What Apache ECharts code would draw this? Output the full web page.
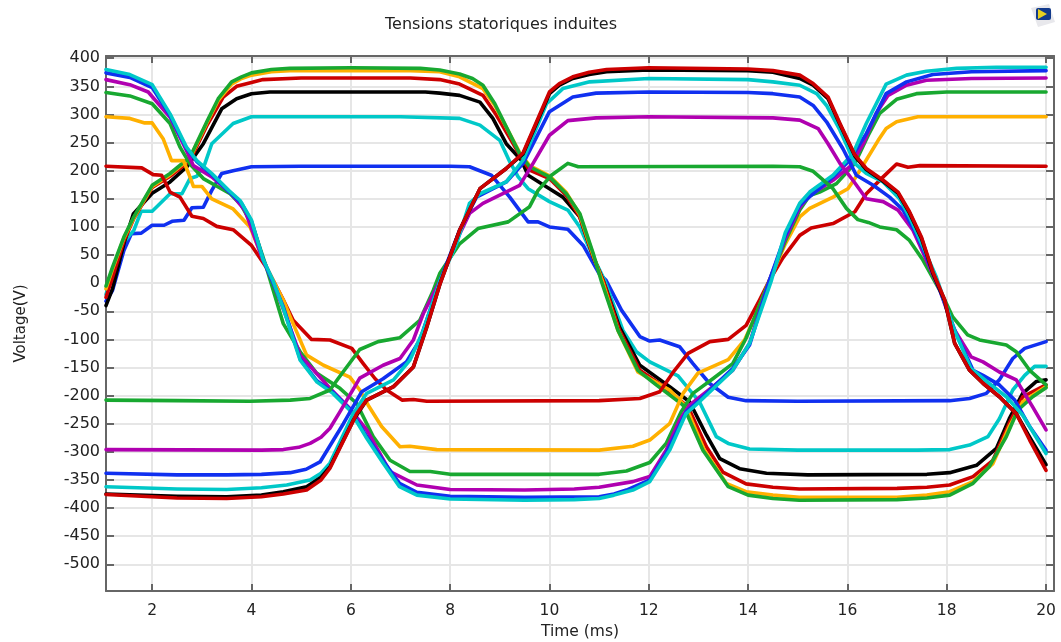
<!DOCTYPE html>
<html><head><meta charset="utf-8"><style>html,body{margin:0;padding:0;background:#fff}#c{width:1061px;height:642px}</style>
<script src="https://cdn.jsdelivr.net/npm/echarts@6/dist/echarts.min.js"></script></head>
<body><div id="c"></div><script>
const xTicks=[2,4,6,8,10,12,14,16,18,20];
const yTicks=[400,350,300,250,200,150,100,50,0,-50,-100,-150,-200,-250,-300,-350,-400,-450,-500];
const uBlue=[[1.07,-32],[1.2,-13],[1.43,58],[1.58,88],[1.78,89],[2,103],[2.24,103],[2.4,110],[2.64,112],[2.8,134],[3.03,135],[3.2,165],[3.4,195],[3.63,200],[4,207],[5,208],[8,208],[8.39,207],[8.83,192],[9.2,153],[9.57,109],[9.77,109],[10,100],[10.37,96],[10.68,67],[11,17],[11.14,5],[11.45,-48],[11.82,-95],[12.02,-103],[12.22,-101],[12.62,-113],[12.89,-143],[13.22,-178],[13.6,-203],[13.96,-209],[15,-210],[18.06,-209],[18.46,-205],[18.8,-196],[19.06,-172],[19.33,-134],[19.57,-116],[20,-104]];
const uCyan=[[1.07,-20],[1.2,20],[1.43,73],[1.63,94],[1.78,128],[2,128],[2.36,159],[2.6,159],[2.76,186],[2.9,190],[3.06,212],[3.2,248],[3.63,284],[4,296],[7,296],[8.19,293],[8.6,281],[9,254],[9.2,216],[9.37,189],[9.57,168],[10,145],[10.37,130],[10.61,100],[10.88,47],[11.11,5],[11.48,-84],[11.75,-122],[12.02,-140],[12.59,-165],[13.02,-211],[13.36,-273],[13.6,-285],[14.03,-295],[15,-297],[17.4,-297],[18.06,-296],[18.46,-288],[18.83,-273],[19.06,-241],[19.33,-190],[19.57,-164],[19.77,-148],[20,-148]];
const uBlack=[[1.07,-40],[1.2,-10],[1.43,70],[1.62,123],[2,160],[2.36,180],[2.7,207],[3.03,248],[3.4,310],[3.7,328],[4,337],[4.37,340],[7.5,340],[7.79,338],[8.19,334],[8.6,322],[8.86,293],[9.13,248],[9.43,219],[9.57,192],[10,168],[10.27,153],[10.61,118],[10.88,47],[11.08,5],[11.41,-78],[11.82,-146],[12.42,-184],[12.82,-211],[13.16,-270],[13.43,-312],[13.83,-330],[14.37,-338],[15.2,-341],[17.6,-340],[18.06,-337],[18.6,-324],[19,-294],[19.26,-241],[19.53,-196],[19.8,-175],[20,-172]];
const uRed=[[1.07,-25],[1.2,10],[1.43,75],[1.63,115],[2,170],[2.36,190],[2.76,218],[3.1,280],[3.43,331],[3.7,350],[4,357],[4.23,362],[5,365],[7.2,365],[7.79,362],[8.19,354],[8.66,334],[8.93,299],[9.4,228],[9.6,201],[10,186],[10.34,156],[10.61,118],[10.88,47],[11.08,5],[11.41,-84],[11.82,-155],[12.35,-187],[12.79,-220],[13.16,-291],[13.49,-336],[13.96,-357],[14.5,-363],[15.03,-366],[17,-365],[17.6,-363],[18.06,-359],[18.53,-344],[18.93,-315],[19.26,-249],[19.53,-202],[20,-181]];
const uOrange=[[1.07,-10],[1.2,25],[1.43,80],[1.63,116],[2,172],[2.36,193],[2.76,222],[3.1,285],[3.33,325],[3.6,354],[3.8,364],[4,370],[4.4,376],[4.77,378],[7.2,378],[7.79,376],[8.19,367],[8.66,346],[8.9,316],[9.4,232],[9.6,209],[10,191],[10.34,161],[10.61,122],[10.88,50],[11.06,5],[11.38,-84],[11.78,-158],[12.42,-190],[12.75,-220],[13.12,-297],[13.56,-356],[13.96,-371],[14.5,-377],[15.03,-381],[17,-381],[17.6,-377],[18.06,-371],[18.53,-353],[18.93,-321],[19.26,-255],[19.53,-211],[20,-184]];
const uGreen=[[1.07,-5],[1.2,28],[1.43,82],[1.63,118],[2,174],[2.36,195],[2.76,224],[3.1,287],[3.33,328],[3.6,358],[3.8,367],[4,374],[4.4,380],[4.77,382],[6,383],[7.4,382],[7.79,379],[8.19,372],[8.45,364],[8.66,352],[8.9,319],[9.4,230],[9.6,207],[10,189],[10.34,159],[10.61,124],[10.88,53],[11.04,5],[11.38,-84],[11.78,-155],[12.15,-181],[12.69,-217],[13.09,-297],[13.6,-362],[14,-377],[14.5,-383],[15.03,-386],[17,-385],[17.6,-382],[18.06,-377],[18.53,-356],[18.86,-326],[19.2,-273],[19.43,-226],[19.73,-202],[20,-186]];
const vRed=[[1.07,208],[1.79,205],[2.02,193],[2.19,192],[2.36,162],[2.56,153],[2.8,119],[3.03,115],[3.3,101],[3.63,95],[4,67],[4.3,28],[4.63,-28],[4.84,-66],[5.21,-100],[5.58,-101],[6.02,-116],[6.25,-143],[6.49,-170],[6.72,-190],[7.03,-208],[7.26,-207],[7.53,-210],[11,-209],[11.82,-205],[12.22,-193],[12.52,-155],[12.79,-125],[13.23,-104],[13.6,-100],[13.96,-75],[14.23,-30],[14.43,5],[14.7,45],[15.04,85],[15.27,98],[15.71,106],[16.15,127],[16.38,159],[16.72,189],[16.99,212],[17.22,206],[17.46,209],[20,208]];
const vOrange=[[1.07,296],[1.55,293],[1.85,285],[2,285],[2.22,257],[2.39,218],[2.63,218],[2.76,189],[2.83,172],[3,172],[3.2,150],[3.63,132],[3.97,100],[4.3,28],[4.64,-30],[4.78,-60],[5.11,-128],[5.45,-146],[5.98,-167],[6.18,-190],[6.35,-217],[6.62,-255],[6.99,-291],[7.19,-290],[7.73,-296],[11,-297],[11.68,-290],[12.02,-279],[12.42,-250],[12.69,-196],[12.99,-160],[13.6,-136],[13.93,-101],[14.17,-54],[14.43,5],[14.75,70],[15.04,118],[15.24,133],[15.71,153],[16.01,168],[16.15,186],[16.38,219],[16.62,254],[16.78,275],[16.99,287],[17.42,296],[20,296]];
const vGreen=[[1.07,339],[1.55,333],[2,319],[2.36,284],[2.56,242],[2.76,212],[3.03,186],[3.33,171],[3.57,159],[3.8,138],[4.03,100],[4.3,28],[4.64,-72],[4.98,-122],[5.31,-160],[5.78,-187],[6.12,-214],[6.45,-273],[6.79,-315],[7.19,-335],[7.6,-335],[8,-340],[11,-340],[11.55,-334],[12.02,-319],[12.35,-285],[12.65,-229],[12.89,-196],[13.29,-170],[13.69,-143],[13.96,-98],[14.43,5],[14.75,75],[15.04,130],[15.24,156],[15.44,162],[15.78,177],[16.15,213],[16.42,263],[16.65,302],[16.99,327],[17.39,337],[18,340],[20,340]];
const vPurple=[[1.07,362],[1.55,353],[1.92,340],[2.36,295],[2.69,236],[2.83,209],[3.2,189],[3.6,159],[3.87,129],[4.2,48],[4.45,-2],[4.7,-60],[4.98,-128],[5.58,-187],[5.98,-223],[6.32,-261],[6.79,-335],[7.33,-359],[8,-367],[9.5,-368],[10.5,-366],[11,-363],[11.68,-353],[12.02,-344],[12.35,-297],[12.62,-244],[12.82,-217],[13.29,-184],[13.69,-155],[14.03,-107],[14.43,5],[14.75,80],[15.04,135],[15.24,156],[15.71,183],[16.05,207],[16.32,248],[16.58,302],[16.82,334],[17.19,352],[17.59,361],[18.5,364],[20,365]];
const vBlue=[[1.07,374],[1.55,366],[2,348],[2.36,298],[2.69,240],[2.9,216],[3.2,193],[3.54,163],[3.8,142],[4,110],[4.23,43],[4.43,2],[4.64,-42],[4.98,-135],[5.32,-174],[5.64,-194],[5.98,-224],[6.3,-270],[6.65,-316],[6.98,-356],[7.33,-372],[8,-379],[9.5,-381],[11,-380],[11.3,-375],[11.55,-368],[12.02,-350],[12.35,-303],[12.75,-229],[13.02,-208],[13.69,-152],[14.03,-110],[14.43,5],[14.75,85],[15.04,139],[15.71,189],[16.05,219],[16.38,266],[16.78,337],[17.19,358],[17.72,371],[18.5,376],[20,378]];
const vCyan=[[1.07,380],[1.55,371],[2,353],[2.36,301],[2.69,242],[2.9,218],[3.2,195],[3.54,165],[3.77,147],[4,112],[4.23,43],[4.43,5],[4.64,-45],[4.98,-137],[5.32,-176],[5.64,-196],[5.98,-226],[6.3,-273],[6.65,-320],[6.98,-362],[7.33,-377],[8,-384],[9.5,-386],[10.5,-385],[11,-383],[11.3,-377],[11.68,-368],[12.02,-353],[12.42,-297],[12.75,-232],[13.02,-211],[13.69,-155],[14.03,-107],[14.47,5],[14.75,90],[15.04,142],[15.24,162],[15.71,192],[16.11,230],[16.38,284],[16.78,354],[17.19,370],[17.59,377],[18.2,382],[19,384],[20,384]];
const wGreen=[[1.07,-208],[2.5,-209],[3.97,-210],[4.78,-208],[5.18,-205],[5.58,-190],[5.75,-169],[6.18,-118],[6.55,-104],[6.99,-97],[7.39,-66],[7.66,-13],[7.79,17],[8.19,70],[8.56,97],[9.17,109],[9.6,136],[9.77,165],[10.04,192],[10.37,213],[10.58,207],[14.5,208],[15.04,207],[15.31,199],[15.48,186],[15.71,168],[15.98,133],[16.21,113],[16.42,108],[16.65,100],[16.99,95],[17.25,76],[17.52,41],[17.93,-24],[18.12,-60],[18.42,-92],[18.66,-101],[19.2,-110],[19.4,-122],[19.67,-155],[20,-181]];
const wPurple=[[1.07,-296],[4.2,-297],[4.64,-296],[4.95,-292],[5.18,-285],[5.4,-274],[5.58,-258],[5.78,-229],[6.18,-169],[6.65,-146],[6.99,-134],[7.26,-101],[7.46,-54],[7.8,5],[8.13,76],[8.39,124],[8.66,142],[9.4,174],[9.67,213],[10,263],[10.37,289],[10.94,294],[12,296],[14.5,294],[15.04,290],[15.41,275],[15.61,248],[15.85,213],[16.11,183],[16.38,150],[16.72,145],[17.02,130],[17.32,94],[17.59,41],[17.86,-12],[18.12,-78],[18.49,-131],[18.73,-140],[19.06,-158],[19.4,-172],[19.73,-220],[20,-261]];
const wBlue=[[1.07,-338],[2.5,-341],[3.5,-341],[4.2,-340],[4.78,-337],[5.1,-331],[5.38,-318],[5.85,-250],[6.22,-193],[6.65,-170],[7.12,-140],[7.39,-101],[7.8,5],[8.19,94],[8.53,153],[9.13,180],[9.47,213],[10,305],[10.47,331],[10.94,338],[12,340],[14,339],[14.5,337],[15.04,331],[15.31,316],[15.58,287],[15.91,239],[16.18,192],[16.52,174],[16.85,153],[17.12,130],[17.35,94],[17.59,47],[17.86,-12],[18.19,-90],[18.53,-155],[18.73,-164],[19.06,-181],[19.37,-208],[19.67,-255],[20,-297]];
const wCyan=[[1.07,-362],[2.5,-366],[3.5,-367],[4.2,-364],[4.71,-359],[5.18,-350],[5.4,-338],[5.58,-320],[6.05,-232],[6.32,-196],[6.86,-172],[7.19,-137],[7.46,-84],[7.8,5],[8.13,70],[8.39,142],[8.6,159],[9.13,180],[9.47,219],[9.94,319],[10.27,346],[10.81,358],[12,364],[14,362],[14.5,358],[15.04,352],[15.38,337],[15.58,316],[15.85,272],[16.15,213],[16.38,195],[16.72,180],[17.05,150],[17.25,118],[17.52,65],[17.79,11],[18.16,-85],[18.49,-152],[18.85,-178],[19.2,-202],[19.53,-235],[20,-303]];
const wBlack=[[1.07,-375],[2.5,-379],[3.5,-380],[4.2,-377],[4.64,-371],[5.11,-362],[5.4,-345],[5.58,-327],[6.05,-244],[6.32,-208],[6.86,-184],[7.26,-149],[7.53,-78],[7.8,0],[8.19,94],[8.6,168],[9.13,204],[9.47,230],[10,337],[10.2,352],[10.47,364],[10.8,371],[11.15,376],[12,379],[14,378],[14.5,375],[15.04,364],[15.31,352],[15.61,328],[15.85,282],[16.15,226],[16.38,202],[16.72,181],[17.02,160],[17.25,125],[17.49,80],[17.72,18],[17.96,-32],[18.16,-107],[18.46,-155],[18.73,-178],[19.06,-202],[19.4,-232],[19.67,-274],[20,-323]];
const wRed=[[1.07,-376],[2.5,-382],[3.5,-383],[4.2,-380],[4.64,-375],[5.11,-368],[5.4,-350],[5.58,-329],[6.12,-232],[6.32,-208],[6.86,-184],[7.26,-149],[7.53,-78],[7.79,-3],[8.19,94],[8.6,168],[9.13,204],[9.47,232],[10,340],[10.2,355],[10.47,367],[10.8,375],[11.15,380],[12,383],[14,381],[14.5,378],[15.04,370],[15.31,355],[15.61,331],[15.85,284],[16.15,228],[16.38,204],[16.72,183],[17.02,162],[17.25,127],[17.49,82],[17.72,20],[17.96,-30],[18.16,-107],[18.46,-155],[18.73,-178],[19.06,-202],[19.4,-232],[19.67,-279],[20,-333]];
const colors={blue:'#1030f0',cyan:'#00c8c8',black:'#000000',red:'#cc0000',orange:'#ffb000',green:'#18a830',purple:'#b000b0'};
const curves=[[uBlue,'blue'],[uCyan,'cyan'],[uBlack,'black'],[uRed,'red'],[uOrange,'orange'],[uGreen,'green'],
[vRed,'red'],[vOrange,'orange'],[vGreen,'green'],[vPurple,'purple'],[vBlue,'blue'],[vCyan,'cyan'],
[wGreen,'green'],[wPurple,'purple'],[wBlue,'blue'],[wCyan,'cyan'],[wBlack,'black'],[wRed,'red']];
const FONT='"DejaVu Sans"',TXT='#222',AX='#666';
const X0=1.07,X1=20.16,Y0=-547.5,Y1=404;
const line={lineStyle:{color:AX,width:2}};
function axisX(primary){return {type:'value',min:X0,max:X1,position:primary?'bottom':'top',axisLine:{show:true,onZero:false,...line},
 axisTick:{show:true,inside:true,length:7,customValues:xTicks,lineStyle:{color:AX,width:2}},
 axisLabel:primary?{show:true,customValues:xTicks,color:TXT,fontFamily:FONT,fontSize:15.5,margin:12}:{show:false},
 splitLine:{show:primary,lineStyle:{color:'#e6e6e6',width:2}},
 name:primary?'Time (ms)':'',nameLocation:'middle',nameGap:33,nameTextStyle:{color:TXT,fontFamily:FONT,fontSize:15.5}};}
function axisY(primary){return {type:'value',min:Y0,max:Y1,position:primary?'left':'right',axisLine:{show:true,onZero:false,...line},
 axisTick:{show:true,inside:true,length:8,customValues:yTicks,lineStyle:{color:AX,width:2}},
 axisLabel:primary?{show:true,customValues:yTicks,color:TXT,fontFamily:FONT,fontSize:16,margin:6}:{show:false},
 splitLine:{show:primary,lineStyle:{color:'#e6e6e6',width:2}},
 name:primary?'Voltage(V)':'',nameLocation:'middle',nameGap:77,nameTextStyle:{color:TXT,fontFamily:FONT,fontSize:15}};}
const chart=echarts.init(document.getElementById('c'),null,{renderer:'canvas'});
chart.setOption({animation:false,backgroundColor:'#fff',
 title:{text:'Tensions statoriques induites',left:380,top:12,textStyle:{color:TXT,fontFamily:FONT,fontSize:16,fontWeight:'normal'}},
 grid:{left:106,right:7,top:56,bottom:51,containLabel:false,outerBoundsMode:'none'},
 xAxis:[axisX(true),axisX(false)],yAxis:[axisY(true),axisY(false)],
 series:curves.map(([d,c])=>({type:'line',data:d,showSymbol:false,smooth:false,xAxisIndex:0,yAxisIndex:0,clip:true,lineStyle:{color:colors[c],width:3.6,cap:'round',join:'round'}})),
 graphic:[
  {type:'polygon',shape:{points:[[1031,8],[1049,4],[1055,22],[1038,27]]},style:{fill:'#e8e8ec'}},
  {type:'rect',shape:{x:1036,y:8,width:15,height:12,r:2},style:{fill:'#123a8c'}},
  {type:'polygon',shape:{points:[[1038,9],[1047,14],[1038,19]]},style:{fill:'#e8d020'}}
 ]});
</script></body></html>
